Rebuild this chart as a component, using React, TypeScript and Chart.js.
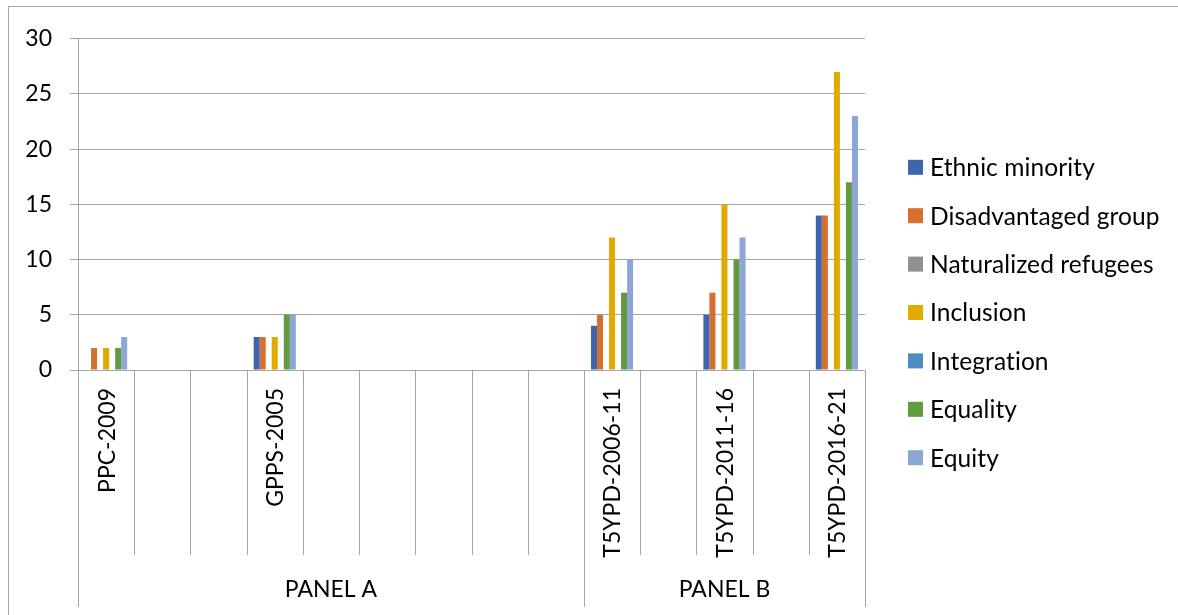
import React, { useEffect, useRef } from "react";
import { Chart, registerables } from "chart.js";

Chart.register(...registerables);

const categories = [
  "PPC-2009", "", "", "GPPS-2005", "", "", "", "", "",
  "T5YPD-2006-11", "", "T5YPD-2011-16", "", "T5YPD-2016-21",
];
const panelNames = ["PANEL A", "PANEL B"];
const panelSizes = [9, 5];

const seriesNames = [
  "Ethnic minority",
  "Disadvantaged group",
  "Naturalized refugees",
  "Inclusion",
  "Integration",
  "Equality",
  "Equity",
];
const seriesColors = ["#3F65AF", "#D5702E", "#919191", "#E2AA00", "#4E8BC0", "#629A3F", "#8EA6D6"];

const ethnicMinority = [0, null, null, 3, null, null, null, null, null, 4, null, 5, null, 14];
const disadvantagedGroup = [2, null, null, 3, null, null, null, null, null, 5, null, 7, null, 14];
const naturalizedRefugees = [0, null, null, 0, null, null, null, null, null, 0, null, 0, null, 0];
const inclusion = [2, null, null, 3, null, null, null, null, null, 12, null, 15, null, 27];
const integration = [0, null, null, 0, null, null, null, null, null, 0, null, 0, null, 0];
const equality = [2, null, null, 5, null, null, null, null, null, 7, null, 10, null, 17];
const equity = [3, null, null, 5, null, null, null, null, null, 10, null, 12, null, 23];

const seriesValues = [ethnicMinority, disadvantagedGroup, naturalizedRefugees, inclusion, integration, equality, equity];

const yMin = 0;
const yMax = 30;
const yStep = 5;

const GRID = "#a6a6a6";
const FONT = "Lato, 'Noto Sans', sans-serif";
const FONT_SIZE = 23;
const LEGEND_FONT_SIZE = 24.5;

const axisAndLegendPlugin = {
  id: "axisAndLegend",
  afterDraw(chart: any) {
    const { ctx, chartArea } = chart;
    const x = chart.scales.x;
    ctx.save();
    // category separators and panel separators
    const bounds = new Set<number>();
    let acc = 0;
    bounds.add(0);
    panelSizes.forEach((s) => {
      acc += s;
      bounds.add(acc);
    });
    ctx.strokeStyle = GRID;
    ctx.lineWidth = 1;
    for (let i = 0; i <= categories.length; i++) {
      const px = Math.round(x.getPixelForValue(i - 0.5)) + 0.5;
      const yEnd = bounds.has(i) ? chartArea.bottom + 237 : chartArea.bottom + 185;
      ctx.beginPath();
      ctx.moveTo(px, chartArea.bottom);
      ctx.lineTo(px, yEnd);
      ctx.stroke();
    }
    // category labels (rotated)
    ctx.fillStyle = "#000";
    ctx.font = `${FONT_SIZE}px ${FONT}`;
    categories.forEach((label, i) => {
      if (!label) return;
      const cx = x.getPixelForValue(i);
      ctx.save();
      ctx.translate(cx, chartArea.bottom + 18);
      ctx.rotate(-Math.PI / 2);
      ctx.textAlign = "right";
      ctx.textBaseline = "middle";
      ctx.fillText(label, 0, 1);
      ctx.restore();
    });
    // panel labels
    let start = 0;
    panelNames.forEach((name, p) => {
      const end = start + panelSizes[p];
      const l = x.getPixelForValue(start - 0.5);
      const r = x.getPixelForValue(end - 0.5);
      ctx.textAlign = "center";
      ctx.textBaseline = "middle";
      ctx.fillText(name, (l + r) / 2, chartArea.bottom + 220);
      start = end;
    });
    // legend
    ctx.font = `${LEGEND_FONT_SIZE}px ${FONT}`;
    try {
      (ctx as any).letterSpacing = "0.1px";
    } catch (e) {
      /* ignore */
    }
    const spacing = 48.4;
    const n = chart.data.datasets.length;
    const x0 = chartArea.right + 43;
    const y0 = chart.height / 2 + 1.5 - ((n - 1) * spacing) / 2;
    chart.data.datasets.forEach((ds: any, k: number) => {
      const cy = y0 + k * spacing;
      ctx.fillStyle = ds.backgroundColor;
      ctx.fillRect(x0, cy - 7.5, 15, 15);
      ctx.fillStyle = "#000";
      ctx.textAlign = "left";
      ctx.textBaseline = "middle";
      ctx.fillText(ds.label, x0 + 22, cy + 1);
    });
    ctx.restore();
  },
};

export default function App() {
  const canvasRef = useRef<HTMLCanvasElement | null>(null);

  useEffect(() => {
    if (!canvasRef.current) return;
    const chart = new Chart(canvasRef.current, {
      type: "bar",
      data: {
        labels: categories,
        datasets: seriesNames.map((name, i) => ({
          label: name,
          data: seriesValues[i] as any,
          backgroundColor: seriesColors[i],
          borderWidth: 0,
          categoryPercentage: 0.75,
          barPercentage: 1,
        })),
      },
      options: {
        animation: false,
        responsive: true,
        maintainAspectRatio: false,
        layout: { padding: { top: 29, right: 313, bottom: 0, left: 0 } },
        plugins: {
          legend: { display: false },
          tooltip: { enabled: false },
        },
        scales: {
          x: {
            grid: { display: false },
            border: { display: false },
            ticks: { display: false },
            afterFit: (s: any) => {
              s.height = 245;
            },
          },
          y: {
            min: yMin,
            max: yMax,
            ticks: {
              stepSize: yStep,
              color: "#000",
              font: { family: FONT, size: FONT_SIZE },
              padding: 18,
            },
            grid: { color: GRID, lineWidth: 1, tickLength: 8, drawTicks: true },
            border: { display: true, color: GRID, width: 1 },
            afterFit: (s: any) => {
              s.width = 69;
            },
          },
        },
      },
      plugins: [axisAndLegendPlugin],
    });
    return () => chart.destroy();
  }, []);

  return (
    <div
      style={{
        position: "fixed",
        left: 8,
        top: 6,
        width: 1170,
        height: 609,
        boxSizing: "border-box",
        borderTop: `1px solid ${GRID}`,
        borderLeft: `1px solid ${GRID}`,
        background: "#fff",
      }}
    >
      <canvas ref={canvasRef} />
    </div>
  );
}
